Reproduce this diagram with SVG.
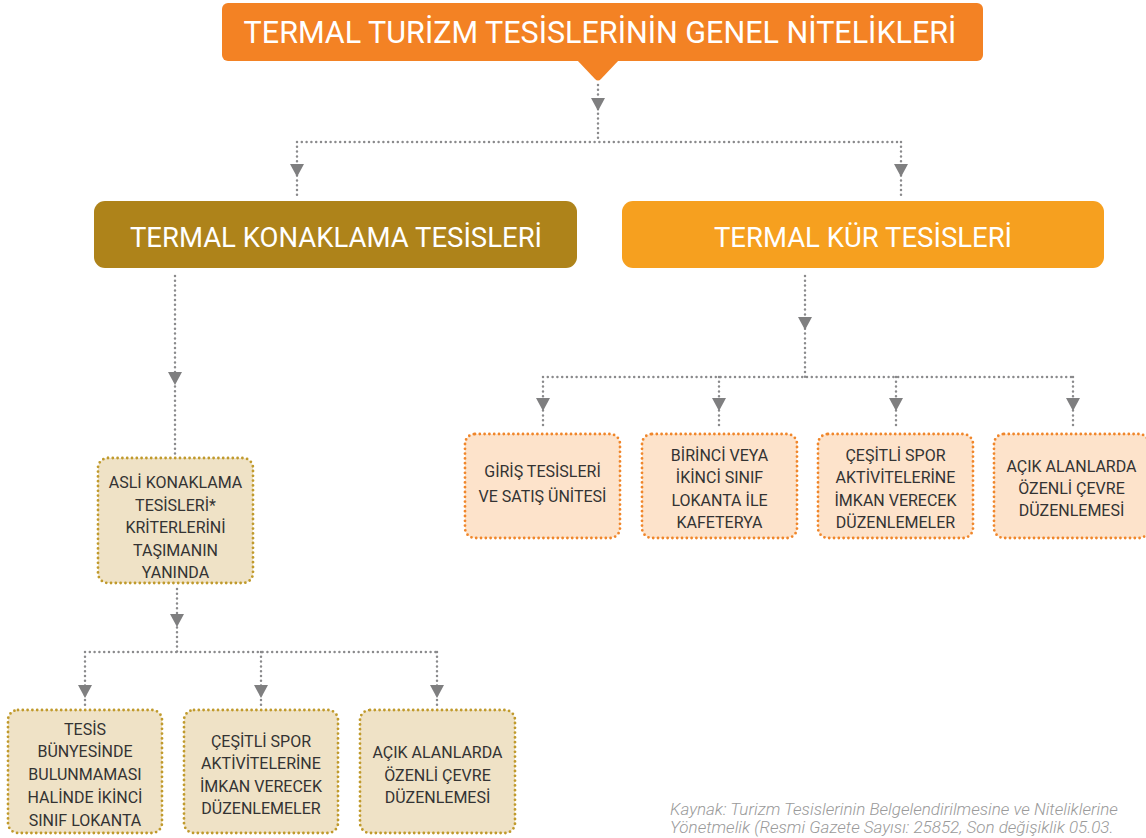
<svg xmlns="http://www.w3.org/2000/svg" xmlns:xlink="http://www.w3.org/1999/xlink" width="1146" height="838" viewBox="0 0 1146 838">
<defs>
<path id="ah" d="M-7,-6 L7,-6 L0,7 Z" fill="#7f7f80"/>
</defs>
<style>
.con{fill:none;stroke:#8a8a8c;stroke-width:2.5;stroke-linecap:round;stroke-dasharray:0 4.8}
.t1{font-family:Roboto,"Liberation Sans",sans-serif;fill:#fff;text-anchor:middle}
.bx{font-family:Roboto,"Liberation Sans",sans-serif;font-size:16px;fill:#333;text-anchor:middle}
.kur{fill:#fde3cb;stroke:#f0862a;stroke-width:2.8;stroke-linecap:round;stroke-dasharray:0 4.8}
.kon{fill:#efe2c6;stroke:#c09a2c;stroke-width:2.8;stroke-linecap:round;stroke-dasharray:0 4.8}
.src{font-family:Roboto,"Liberation Sans",sans-serif;font-style:italic;font-weight:300;font-size:17px;fill:#9a9a9a}
</style>
<rect width="1146" height="838" fill="#fff"/>

<g id="connectors">
<path class="con" d="M598,85 V142 M297,142 H901 M297,142 V195 M901,142 V195"/>
<path class="con" d="M175,276 V454 M177,589 V652 M85,652 H437 M85,652 V705 M261,652 V705 M437,652 V705"/>
<path class="con" d="M805,276 V377 M543,377 H1073 M543,377 V429 M719,377 V429 M896,377 V429 M1073,377 V429"/>
<use xlink:href="#ah" x="598" y="104"/>
<use xlink:href="#ah" x="297" y="170"/>
<use xlink:href="#ah" x="901" y="170"/>
<use xlink:href="#ah" x="175" y="378"/>
<use xlink:href="#ah" x="177" y="620"/>
<use xlink:href="#ah" x="85" y="691"/>
<use xlink:href="#ah" x="261" y="691"/>
<use xlink:href="#ah" x="437" y="691"/>
<use xlink:href="#ah" x="805" y="323"/>
<use xlink:href="#ah" x="543" y="404"/>
<use xlink:href="#ah" x="719" y="404"/>
<use xlink:href="#ah" x="896" y="404"/>
<use xlink:href="#ah" x="1073" y="404"/>
</g>

<g id="top">
<rect x="222" y="3" width="761" height="58" rx="6" fill="#f38224"/>
<path d="M577,60 L619,60 L601,79 Q598,82 595,79 Z" fill="#f38224"/>
<text class="t1" x="600" y="43" font-size="30.5">TERMAL TURİZM TESİSLERİNİN GENEL NİTELİKLERİ</text>
</g>

<g id="konaklama">
<rect x="94" y="201" width="483" height="67" rx="11" fill="#ae831a"/>
<text class="t1" x="336" y="247" font-size="27.5">TERMAL KONAKLAMA TESİSLERİ</text>
</g>

<g id="kur">
<rect x="622" y="201" width="482" height="67" rx="11" fill="#f6a01f"/>
<text class="t1" x="863" y="247" font-size="27.5">TERMAL KÜR TESİSLERİ</text>
</g>

<g id="asli">
<rect class="kon" x="98" y="458" width="155" height="125" rx="10"/>
<text class="bx"><tspan x="175.5" y="488">ASLİ KONAKLAMA</tspan><tspan x="175.5" y="511">TESİSLERİ*</tspan><tspan x="175.5" y="533">KRİTERLERİNİ</tspan><tspan x="175.5" y="556">TAŞIMANIN</tspan><tspan x="175.5" y="578">YANINDA</tspan></text>
</g>

<g id="k1">
<rect class="kon" x="8" y="710" width="154" height="123" rx="10"/>
<text class="bx"><tspan x="85" y="735">TESİS</tspan><tspan x="85" y="757">BÜNYESİNDE</tspan><tspan x="85" y="780">BULUNMAMASI</tspan><tspan x="85" y="803">HALİNDE İKİNCİ</tspan><tspan x="85" y="826">SINIF LOKANTA</tspan></text>
</g>
<g id="k2">
<rect class="kon" x="184" y="710" width="154" height="123" rx="10"/>
<text class="bx"><tspan x="261" y="747">ÇEŞİTLİ SPOR</tspan><tspan x="261" y="769">AKTİVİTELERİNE</tspan><tspan x="261" y="792">İMKAN VERECEK</tspan><tspan x="261" y="814">DÜZENLEMELER</tspan></text>
</g>
<g id="k3">
<rect class="kon" x="360" y="710" width="155" height="123" rx="10"/>
<text class="bx"><tspan x="437.5" y="758">AÇIK ALANLARDA</tspan><tspan x="437.5" y="781">ÖZENLİ ÇEVRE</tspan><tspan x="437.5" y="803">DÜZENLEMESİ</tspan></text>
</g>

<g id="r1">
<rect class="kur" x="465" y="434" width="155" height="104" rx="10"/>
<text class="bx"><tspan x="542.5" y="477">GİRİŞ TESİSLERİ</tspan><tspan x="542.5" y="502">VE SATIŞ ÜNİTESİ</tspan></text>
</g>
<g id="r2">
<rect class="kur" x="642" y="434" width="155" height="104" rx="10"/>
<text class="bx"><tspan x="719.5" y="461">BİRİNCİ VEYA</tspan><tspan x="719.5" y="483">İKİNCİ SINIF</tspan><tspan x="719.5" y="506">LOKANTA İLE</tspan><tspan x="719.5" y="528">KAFETERYA</tspan></text>
</g>
<g id="r3">
<rect class="kur" x="818" y="434" width="155" height="104" rx="10"/>
<text class="bx"><tspan x="895.5" y="461">ÇEŞİTLİ SPOR</tspan><tspan x="895.5" y="483">AKTİVİTELERİNE</tspan><tspan x="895.5" y="506">İMKAN VERECEK</tspan><tspan x="895.5" y="528">DÜZENLEMELER</tspan></text>
</g>
<g id="r4">
<rect class="kur" x="994" y="434" width="155" height="104" rx="10"/>
<text class="bx"><tspan x="1071.5" y="472">AÇIK ALANLARDA</tspan><tspan x="1071.5" y="494">ÖZENLİ ÇEVRE</tspan><tspan x="1071.5" y="516">DÜZENLEMESİ</tspan></text>
</g>

<g id="source">
<text class="src" x="670" y="815">Kaynak: Turizm Tesislerinin Belgelendirilmesine ve Niteliklerine</text>
<text class="src" x="670" y="833">Yönetmelik (Resmi Gazete Sayısı: 25852, Son değişiklik 05.03.</text>
</g>
</svg>
